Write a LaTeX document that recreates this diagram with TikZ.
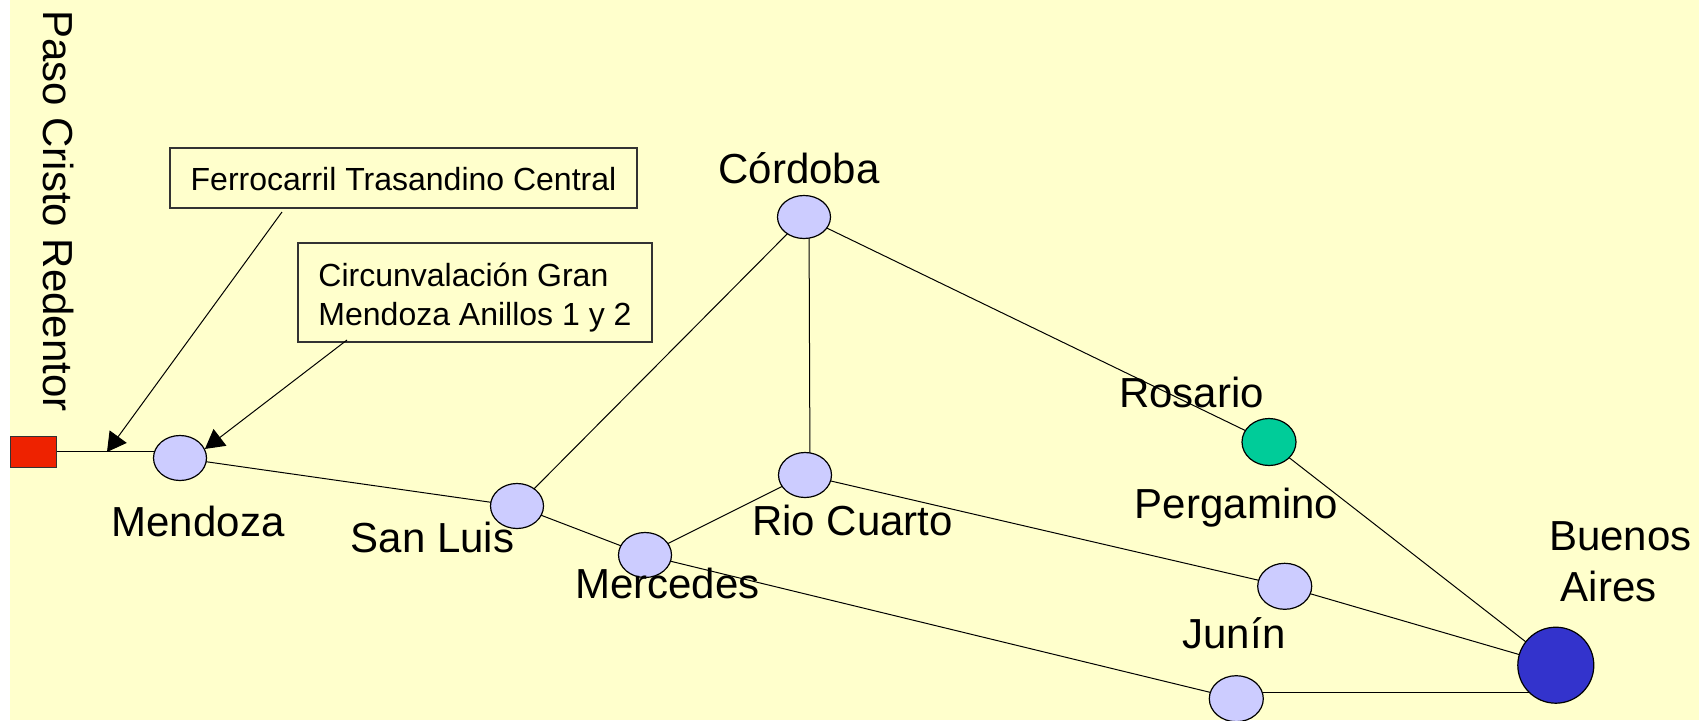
\documentclass[tikz,border=0pt]{standalone}
\usepackage{fontspec}
\setmainfont{Liberation Sans}
\usetikzlibrary{shapes.geometric,arrows.meta}
\definecolor{bgyel}{HTML}{FFFFCC}
\definecolor{cityfill}{HTML}{CCCCFF}
\definecolor{rosfill}{HTML}{00CC99}
\definecolor{bafill}{HTML}{3333CC}
\definecolor{redbox}{HTML}{EE2200}
\definecolor{boxline}{HTML}{333333}
\pgfdeclarelayer{bglayer}
\pgfdeclarelayer{edgelayer}
\pgfsetlayers{bglayer,edgelayer,main}
\begin{document}
\begin{tikzpicture}[x=1pt,y=-1pt,
  city/.style={ellipse,draw=black,line width=1.2pt,fill=cityfill,minimum width=53pt,minimum height=45pt,inner sep=0pt},
  lbl/.style={anchor=base,inner sep=0pt,font=\fontsize{42}{48}\selectfont},
  note/.style={draw=boxline,line width=1.2pt,fill=bgyel,inner sep=0pt,align=left,font=\fontsize{32}{39}\selectfont},
  link/.style={line width=1pt,draw=black},
  pointer/.style={line width=1pt,draw=black,-{Triangle[length=19pt,width=21pt]}}
]
\useasboundingbox (0,0) rectangle (1699,720);
\begin{pgfonlayer}{bglayer}
  \fill[white] (0,0) rectangle (1699,720);
  \fill[bgyel] (10,0) rectangle (1699,720);
\end{pgfonlayer}

% vertical label
\node[rotate=-90,anchor=base west,inner sep=0pt,font=\fontsize{42}{48}\selectfont] (paso) at (43,10) {Paso Cristo Redentor};

% border crossing
\node[rectangle,draw=boxline,line width=0.8pt,fill=redbox,minimum width=46pt,minimum height=31pt,inner sep=0pt] (red) at (33,451.5) {};

% cities
\node[city] (mendoza) at (180,458) {};
\node[city] (sanluis) at (517,506) {};
\node[city] (mercedes) at (645,555) {};
\node[city] (riocuarto) at (805,475) {};
\node[city,minimum height=43pt] (cordoba) at (804,217) {};
\node[city,fill=rosfill,minimum width=54pt,minimum height=47pt] (rosario) at (1269,442) {};
\node[city,minimum width=54pt,minimum height=46pt] (junin) at (1284.7,586.3) {};
\node[city,minimum width=54pt,minimum height=46pt] (lower) at (1236.3,698.7) {};
\node[circle,draw=black,line width=1.2pt,fill=bafill,minimum size=76pt,inner sep=0pt] (ba) at (1555.8,665.2) {};

% labels
\node[lbl] (lcordoba) at (799,183) {Córdoba};
\node[lbl] (lmendoza) at (198,536) {Mendoza};
\node[lbl] (lsanluis) at (432.5,552) {San Luis};
\node[lbl] (lmercedes) at (667.5,598) {Mercedes};
\node[lbl] (lriocuarto) at (852.5,535) {Rio Cuarto};
\node[lbl] (lrosario) at (1191.5,407) {Rosario};
\node[lbl] (lpergamino) at (1236.5,518) {Pergamino};
\node[lbl] (ljunin) at (1234,648.3) {Junín};
\node[lbl] (lba1) at (1620.3,550.7) {Buenos};
\node[lbl] (lba2) at (1608.8,601.7) {Aires};

% callout boxes
\node[note,minimum width=467pt,minimum height=60pt] (box1) at (403.5,178) {\rule{0pt}{26pt}Ferrocarril Trasandino Central};
\node[note,minimum width=354pt,minimum height=99pt] (box2) at (475,292.5) {\rule{0pt}{33pt}Circunvalación Gran\\Mendoza Anillos 1 y 2};

% connectors
\begin{pgfonlayer}{edgelayer}
  \draw[link] (red.east) -- (red.east -| mendoza.center);
  \draw[link] (mendoza.center) -- (sanluis.center);
  \draw[link] (sanluis.center) -- (cordoba.center);
  \draw[link] (sanluis.center) -- (mercedes.center);
  \draw[link] (mercedes.center) -- (riocuarto.center);
  \draw[link] (mercedes.center) -- (lower.center);
  \draw[link] ([xshift=5pt]cordoba.center) -- ([xshift=5pt]riocuarto.center);
  \draw[link] (riocuarto.center) -- (junin.center);
  \draw[link] (cordoba.center) -- (rosario.center);
  \draw[link] (rosario.center) -- (ba.center);
  \draw[link] (junin.center) -- (ba.center);
  \draw[link] ([yshift=6.4pt]lower.center) -- ([yshift=6.4pt]lower.center -| ba.center);
\end{pgfonlayer}

\coordinate (f1) at (282,212);
\coordinate (ftip) at (107,452);
\coordinate (c1) at (347,340);
\draw[pointer] (f1) -- (ftip);
\draw[pointer] (c1) -- (mendoza.20);
\end{tikzpicture}
\end{document}
